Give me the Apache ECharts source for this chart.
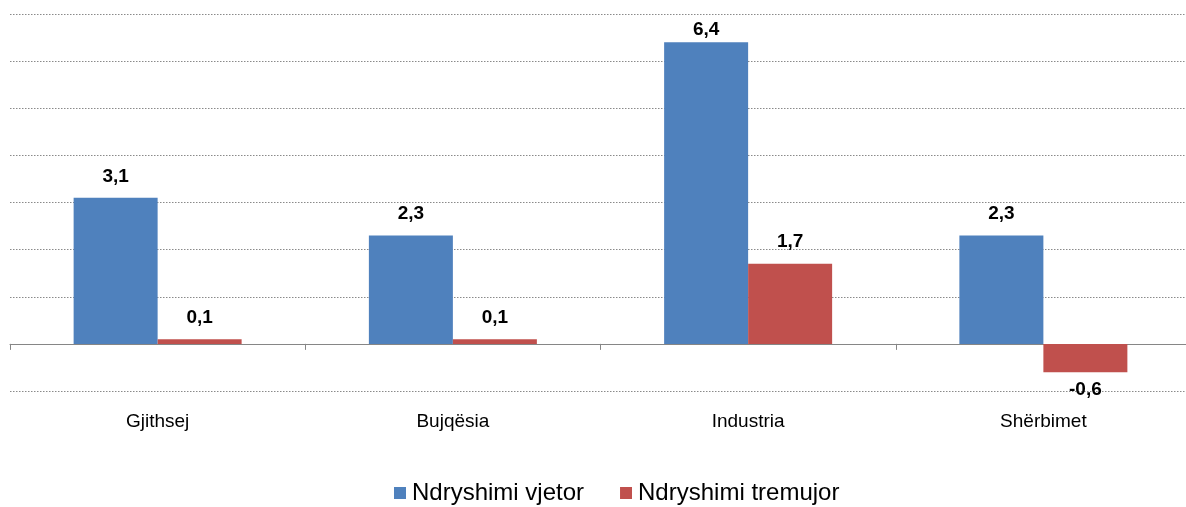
<!DOCTYPE html>
<html>
<head>
<meta charset="utf-8">
<script src="https://cdn.jsdelivr.net/npm/echarts@6/dist/echarts.min.js"></script>
<style>
  html, body { margin: 0; padding: 0; background: #fff; overflow: hidden; }
  /* plot area runs a few px past the right edge, as in the source */
  #chart { width: 1191px; height: 507px; }
</style>
</head>
<body>
<div id="chart"></div>
<script>
var categories = ['Gjithsej', 'Bujqësia', 'Industria', 'Shërbimet'];
var vjetor = [3.1, 2.3, 6.4, 2.3];
var tremujor = [0.1, 0.1, 1.7, -0.6];
var seriesNames = ['Ndryshimi vjetor', 'Ndryshimi tremujor'];
var yMax = 7;

function fmt(p) {
  return String(p.value).replace('.', ',');
}

// labels above positive bars, just under negative ones; squeezed near the top edge
function withLabels(arr) {
  return arr.map(function (v) {
    var lbl;
    if (v < 0) lbl = { position: 'bottom', distance: 8 };
    else if (v > yMax - 1) lbl = { position: 'top', distance: 3 };
    else lbl = { position: 'top', distance: 12 };
    return { value: v, label: lbl };
  });
}

var labelStyle = {
  show: true,
  formatter: fmt,
  fontFamily: 'Liberation Sans',
  fontWeight: 'bold',
  fontSize: 19,
  color: '#000'
};

var option = {
  animation: false,
  textStyle: { fontFamily: 'Liberation Sans' },
  grid: { left: 10, top: 14, right: 0, bottom: 116, containLabel: false },
  legend: {
    data: seriesNames,
    top: 481,
    left: 394,
    padding: 0,
    icon: 'rect',
    itemWidth: 12,
    itemHeight: 12,
    itemGap: 36,
    textStyle: { fontSize: 24, color: '#000', fontFamily: 'Liberation Sans', padding: [0, 0, 0, 1] }
  },
  xAxis: {
    type: 'category',
    data: categories,
    axisLine: { onZero: true, lineStyle: { color: '#868686', width: 1 } },
    axisTick: { show: true, length: 6, lineStyle: { color: '#868686' } },
    axisLabel: { margin: 21, fontSize: 19, color: '#000', fontFamily: 'Liberation Sans' }
  },
  yAxis: {
    type: 'value',
    min: -1,
    max: yMax,
    interval: 1,
    axisLine: { show: false },
    axisTick: { show: false },
    axisLabel: { show: false },
    splitLine: { lineStyle: { color: '#8a8a8a', type: [1.5, 1.5], width: 1 } }
  },
  series: [
    {
      name: seriesNames[0],
      type: 'bar',
      barWidth: 84,
      barGap: '0%',
      itemStyle: { color: '#4F81BD' },
      label: labelStyle,
      data: withLabels(vjetor)
    },
    {
      name: seriesNames[1],
      type: 'bar',
      barWidth: 84,
      barGap: '0%',
      itemStyle: { color: '#C0504D' },
      label: labelStyle,
      data: withLabels(tremujor)
    }
  ]
};

var chart = echarts.init(document.getElementById('chart'));
chart.setOption(option);
</script>
</body>
</html>
